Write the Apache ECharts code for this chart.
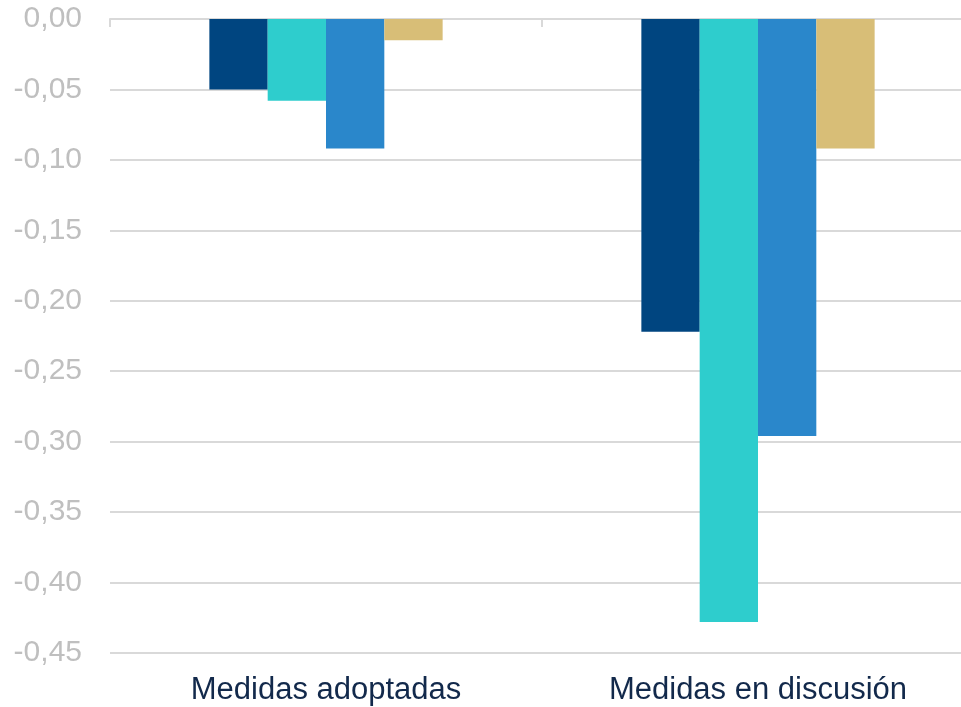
<!DOCTYPE html>
<html>
<head>
<meta charset="utf-8">
<script src="https://cdn.jsdelivr.net/npm/echarts@6/dist/echarts.min.js"></script>
<style>html,body{margin:0;padding:0;background:#fff;overflow:hidden;}#c{width:974px;height:707px;}</style>
</head>
<body>
<div id="c"></div>
<script>
const categories = ['Medidas adoptadas', 'Medidas en discusión'];
const serie1 = [-0.050, -0.222];
const serie2 = [-0.058, -0.428];
const serie3 = [-0.092, -0.296];
const serie4 = [-0.015, -0.092];
const yTickLabels = ['0,00', '-0,05', '-0,10', '-0,15', '-0,20', '-0,25', '-0,30', '-0,35', '-0,40', '-0,45'];
const colors = ['#004580', '#2ECDCD', '#2A87CB', '#D8BE77'];

const chart = echarts.init(document.getElementById('c'), null, {renderer: 'canvas'});
const mk = (d, i) => ({
  type: 'bar', data: d, xAxisIndex: 0, barGap: '0%', barCategoryGap: '46%',
  itemStyle: {color: colors[i]}
});
chart.setOption({
  animation: false,
  backgroundColor: '#fff',
  grid: {left: 110, right: 0, top: 19, bottom: 54, containLabel: false},
  xAxis: [
    {type: 'category', data: categories, position: 'top',
     axisLine: {show: true, onZero: false, lineStyle: {color: '#D9D9D9', width: 2}},
     axisTick: {show: true, inside: true, length: 8, lineStyle: {color: '#D9D9D9', width: 2}},
     axisLabel: {show: false}},
    {type: 'category', data: categories, position: 'bottom',
     axisLine: {show: false}, axisTick: {show: false},
     axisLabel: {show: true, color: '#12294B', fontSize: 31, fontFamily: 'Liberation Sans, Arial, sans-serif', margin: 22}}
  ],
  yAxis: {
    type: 'value', min: -0.45, max: 0, interval: 0.05,
    axisLine: {show: false}, axisTick: {show: false},
    splitLine: {lineStyle: {color: '#D9D9D9', width: 2}},
    axisLabel: {color: '#BFBFBF', fontSize: 30, fontFamily: 'Liberation Sans, Arial, sans-serif', margin: 28,
      formatter: v => yTickLabels[Math.round(-v / 0.05)]}
  },
  series: [mk(serie1, 0), mk(serie2, 1), mk(serie3, 2), mk(serie4, 3)]
});
</script>
</body>
</html>
